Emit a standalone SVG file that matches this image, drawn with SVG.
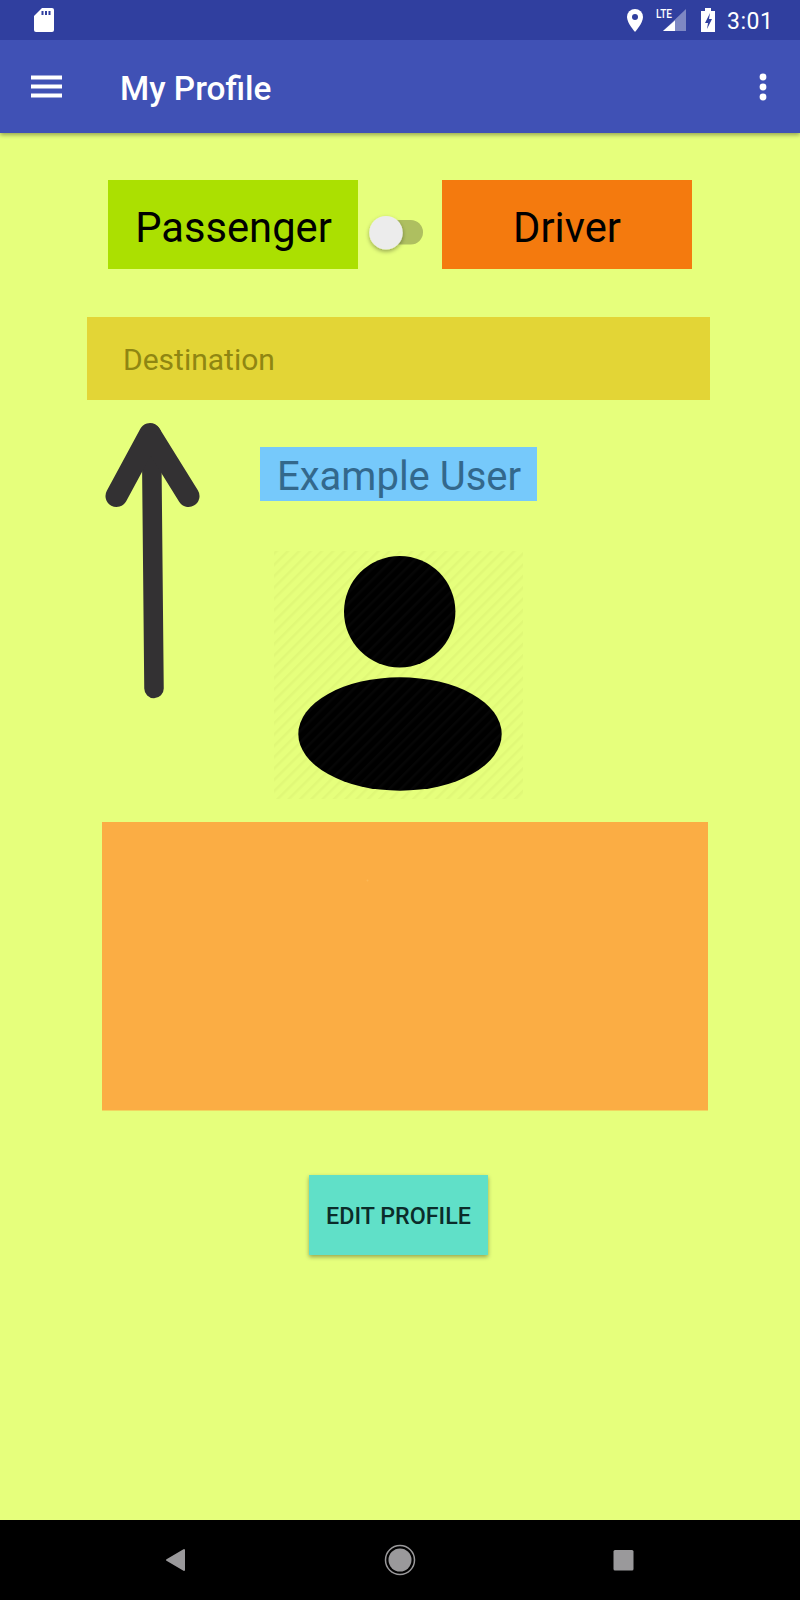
<svg xmlns="http://www.w3.org/2000/svg" width="800" height="1600" viewBox="0 0 800 1600">
<style>
text{font-family:Roboto,"Liberation Sans",sans-serif}
.b{fill:#000;font-size:41.700px}
.bar{fill:#fff}
.nav{fill:#9a999b}
</style>
<defs>
<pattern id="hatch" width="8" height="8" patternUnits="userSpaceOnUse" patternTransform="rotate(45)">
<rect width="8" height="8" fill="#e6ff7c"/><rect width="2.500" height="8" fill="#e0f877"/>
</pattern>
<pattern id="hatchDark" width="8" height="8" patternUnits="userSpaceOnUse" patternTransform="rotate(45)">
<rect width="8" height="8" fill="#000"/><rect width="2.500" height="8" fill="#060606"/>
</pattern>
<filter id="sh" x="-10%" y="-10%" width="120%" height="130%"><feDropShadow dx="0" dy="2" stdDeviation="2" flood-color="#000" flood-opacity=".35"/></filter>
</defs>
<rect id="background" width="800" height="1600" fill="#e6ff7c"/>
<g id="appbar">
<rect y="40" width="800" height="93" fill="#3f51b5" filter="url(#sh)"/>
<rect width="800" height="40" fill="#303f9f"/>
<rect class="bar" x="31" y="75.500" width="31" height="4"/><rect class="bar" x="31" y="84.500" width="31" height="4"/><rect class="bar" x="31" y="93.500" width="31" height="4"/>
<text x="120" y="99.500" font-size="33.400" font-weight="500" fill="#fff">My Profile</text>
<circle class="bar" cx="763" cy="77" r="3.400"/><circle class="bar" cx="763" cy="87" r="3.400"/><circle class="bar" cx="763" cy="97" r="3.400"/>
</g>
<g id="statusbar" fill="#fff">
<path d="M42 8h10a2 2 0 0 1 2 2v20a2 2 0 0 1-2 2H36a2 2 0 0 1-2-2V16z"/>
<path d="M41.500 11h2v4h-2zM45 11h2v4h-2zM48.500 11h2v4h-2z" fill="#303f9f"/>
<path d="M635 9a8 8 0 0 1 8 8c0 6-8 15-8 15s-8-9-8-15a8 8 0 0 1 8-8z"/>
<circle cx="635" cy="17" r="3" fill="#303f9f"/>
<text x="656" y="18" font-size="12" font-weight="500" textLength="16" lengthAdjust="spacingAndGlyphs">LTE</text>
<path d="M686 9v22h-23z" opacity=".38"/><path d="M675 20.500v10.500h-12z"/>
<path d="M701 11h4v-3h6v3h4v21h-14z"/>
<path d="M710 13l-5 10h3l-1 6 5-10h-3z" fill="#303f9f"/>
<text x="727" y="29" font-size="23" letter-spacing=".5">3:01</text>
</g>
<g id="passenger"><rect x="108" y="180" width="250" height="89" fill="#abe001"/><text class="b" x="233.500" y="241.500" text-anchor="middle">Passenger</text></g>
<g id="switch"><rect x="372" y="220" width="51" height="24.500" rx="12.200" fill="#aebf60"/><circle cx="386" cy="232.700" r="16.800" fill="#ececec" filter="url(#sh)"/></g>
<g id="driver"><rect x="442" y="180" width="250" height="89" fill="#f47a0e"/><text class="b" x="567" y="241.500" text-anchor="middle">Driver</text></g>
<g id="destination"><rect x="87" y="317" width="623" height="83" fill="#e3d536"/><text x="123" y="369.500" font-size="30" fill="#8f8612">Destination</text></g>
<g id="arrow" fill="none" stroke="#333133" stroke-linecap="round" stroke-linejoin="round"><path d="M151.500 434L154 688.500" stroke-width="19.500"/><path d="M116.500 496L150 434L188.500 496" stroke-width="22"/></g>
<g id="username"><rect x="260" y="447" width="277" height="54" fill="#76c9fb"/><text x="277" y="490" font-size="40" fill="#33688c">Example User</text></g>
<g id="avatar"><rect x="274" y="551" width="249" height="248" fill="url(#hatch)"/><circle cx="399.700" cy="611.700" r="55.700" fill="url(#hatchDark)"/><ellipse cx="400" cy="734" rx="101.700" ry="56.700" fill="url(#hatchDark)"/></g>
<g id="details"><rect x="102" y="822" width="606" height="288.500" fill="#fbad44"/><circle cx="367.500" cy="880.500" r="1" fill="#fcb755"/></g>
<g id="edit"><rect x="309" y="1175" width="179" height="80" fill="#60e0c8" filter="url(#sh)"/><text x="398.500" y="1224" font-size="23.300" font-weight="500" text-anchor="middle" fill="#0b2c2a">EDIT PROFILE</text></g>
<g id="navbar"><rect y="1520" width="800" height="80" fill="#000"/>
<path class="nav" d="M184 1550v20l-17-10z" stroke="#9a999b" stroke-width="2" stroke-linejoin="round"/>
<circle cx="400" cy="1560" r="14.500" fill="none" stroke="#9a999b" stroke-width="1.500"/><circle class="nav" cx="400" cy="1560" r="11.500"/>
<rect class="nav" x="613.500" y="1550" width="20" height="20.500" rx="1.500"/></g>
</svg>
